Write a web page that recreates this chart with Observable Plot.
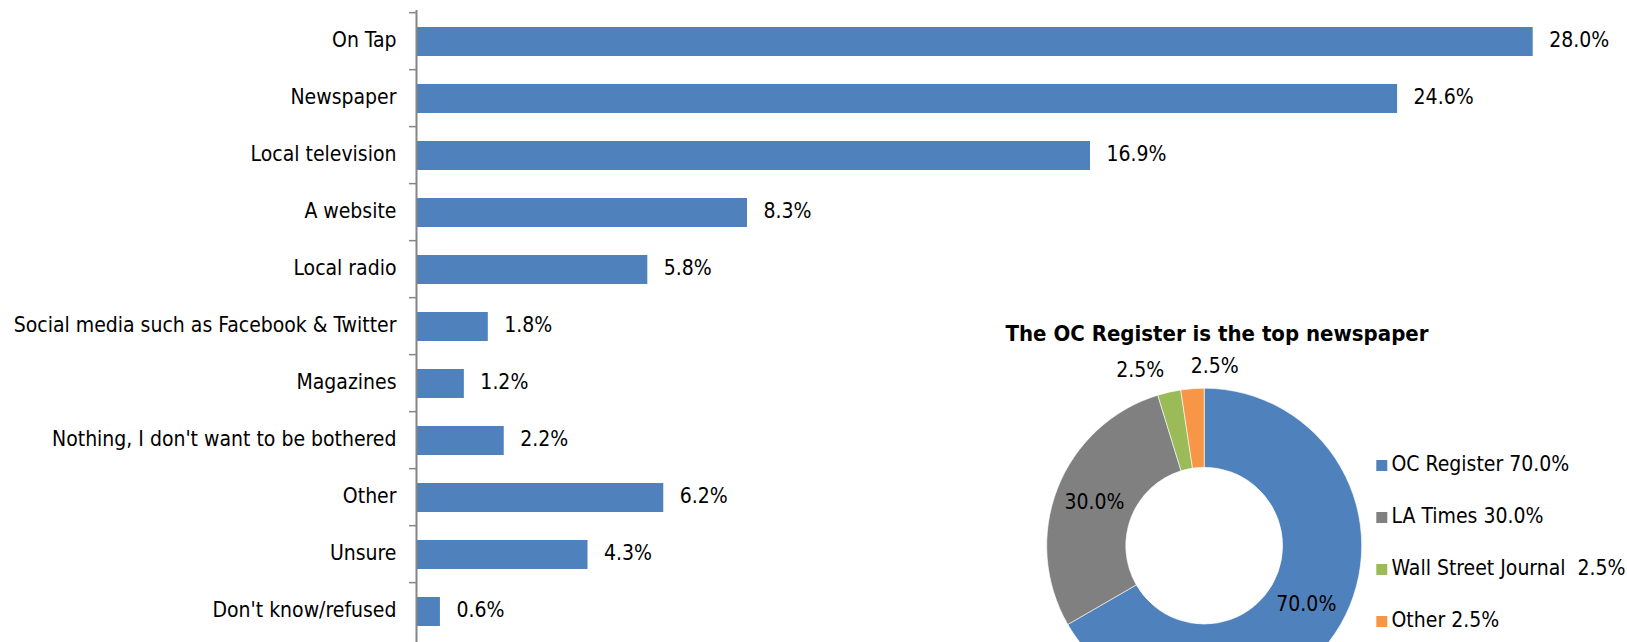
<!DOCTYPE html>
<html>
<head>
<meta charset="utf-8">
<script src="https://cdn.jsdelivr.net/npm/d3@7"></script>
<script src="https://cdn.jsdelivr.net/npm/@observablehq/plot@0.6"></script>
<style>
  html, body { margin: 0; padding: 0; background: #fff; overflow: hidden; }
  #wrap { position: relative; width: 1627px; height: 642px; }
  #bars { position: absolute; left: 0; top: 0; }
  #donut { position: absolute; left: 1000px; top: 300px; width: 627px; height: 342px; overflow: hidden; }
  svg text { white-space: pre; }
</style>
</head>
<body>
<div id="wrap"><div id="bars"></div><div id="donut"></div></div>
<script>
// ---- Data: main bar chart ----
const categories = [
  "On Tap",
  "Newspaper",
  "Local television",
  "A website",
  "Local radio",
  "Social media such as Facebook & Twitter",
  "Magazines",
  "Nothing, I don't want to be bothered",
  "Other",
  "Unsure",
  "Don't know/refused"
];
const shares = [28.0, 24.6, 16.9, 8.3, 5.8, 1.8, 1.2, 2.2, 6.2, 4.3, 0.6];

// ---- Data: newspaper donut ----
const donutTitle = "The OC Register is the top newspaper";
const papers = ["OC Register", "LA Times", "Wall Street Journal", "Other"];
const paperShares = [70.0, 30.0, 2.5, 2.5];
const paperLegend = ["OC Register 70.0%", "LA Times 30.0%", "Wall Street Journal  2.5%", "Other 2.5%"];
const paperColors = ["#4F81BD", "#808080", "#9BBB59", "#F79646"];

const FONT = '"DejaVu Sans Condensed", "DejaVu Sans", sans-serif';

// ---- Bar chart ----
const rows = categories.map((c, i) => ({category: c, share: shares[i]}));
const W = 1627, H = 642, MT = 10, MB = 0;
const step = (H - MT - MB) / categories.length;
const fmt = v => v.toFixed(1) + "%";

const boundaryTicks = (index, scales) => {
  const g = d3.create("svg:g").attr("stroke", "#868686").attr("stroke-width", 1.5);
  for (const c of categories) {
    const yy = scales.y(c) - 0.25 * step;
    g.append("line").attr("x1", scales.x(0) - 7).attr("x2", scales.x(0)).attr("y1", yy).attr("y2", yy);
  }
  return g.node();
};

const bars = Plot.plot({
  width: W,
  height: H,
  marginLeft: 416,
  marginRight: 94.3,
  marginTop: MT,
  marginBottom: MB,
  style: {fontFamily: FONT, fontSize: "21px", color: "#000", background: "transparent", overflow: "visible"},
  x: {domain: [0, 28], axis: null},
  y: {domain: categories, paddingInner: 0.5, paddingOuter: 0.25},
  marks: [
    Plot.barX(rows, {x: "share", y: "category", fill: "#4F81BD"}),
    Plot.text(rows, {x: "share", y: "category", text: d => fmt(d.share), textAnchor: "start", dx: 16, dy: -2, fill: "#000"}),
    Plot.axisY({tickSize: 0, tickPadding: 20, label: null, fill: "#000", dy: -2}),
    Plot.ruleX([0], {stroke: "#868686", strokeWidth: 2}),
    boundaryTicks
  ]
});
document.getElementById("bars").appendChild(bars);

// ---- Donut chart ----
const paperRows = papers.map((p, i) => ({paper: p, share: paperShares[i], legend: paperLegend[i]}));
const CX = 204.2, CY = 245.7, R_OUT = 157.5, R_IN = 78.4;

const donutMark = () => {
  const g = d3.create("svg:g").attr("transform", `translate(${CX},${CY})`);
  const pie = d3.pie().sort(null).value(d => d.share)(paperRows);
  const arc = d3.arc().innerRadius(R_IN).outerRadius(R_OUT);
  const total = d3.sum(paperRows, d => d.share);
  g.selectAll("path").data(pie).join("path")
    .attr("d", arc)
    .attr("fill", d => paperColors[papers.indexOf(d.data.paper)])
    .attr("stroke", "#fff")
    .attr("stroke-width", 0.6);
  const outArc = d3.arc().innerRadius(180).outerRadius(180);
  let outsideCount = 0;
  for (const d of pie) {
    const small = d.data.share / total < 0.05;
    let pos, anchor = "middle";
    if (small) {
      pos = outArc.centroid(d);
      anchor = outsideCount === 0 ? "end" : "start";
      outsideCount++;
    } else {
      pos = arc.centroid(d);
    }
    g.append("text")
      .attr("x", pos[0]).attr("y", pos[1])
      .attr("dy", "0.3em")
      .attr("text-anchor", anchor)
      .attr("fill", "#000")
      .text(fmt(d.data.share));
  }
  return g.node();
};

const donut = Plot.plot({
  width: 627,
  height: 342,
  margin: 0,
  style: {fontFamily: FONT, fontSize: "21px", color: "#000", background: "transparent", overflow: "hidden"},
  x: {axis: null},
  y: {type: "point", domain: papers, range: [165, 321.7], padding: 0, axis: null},
  color: {domain: papers, range: paperColors},
  marks: [
    Plot.text([donutTitle], {text: d => d, frameAnchor: "top-left", textAnchor: "start", lineAnchor: "middle", dx: 5, dy: 33.5, fontWeight: "bold", fontSize: 22, fill: "#000"}),
    donutMark,
    Plot.dot(paperRows, {y: "paper", frameAnchor: "left", dx: 381.3, symbol: "square", r: 6.2, fill: "paper", stroke: null}),
    Plot.text(paperRows, {y: "paper", text: "legend", frameAnchor: "left", dx: 391, dy: -1, textAnchor: "start", fill: "#000"})
  ]
});
document.getElementById("donut").appendChild(donut);
</script>
</body>
</html>
